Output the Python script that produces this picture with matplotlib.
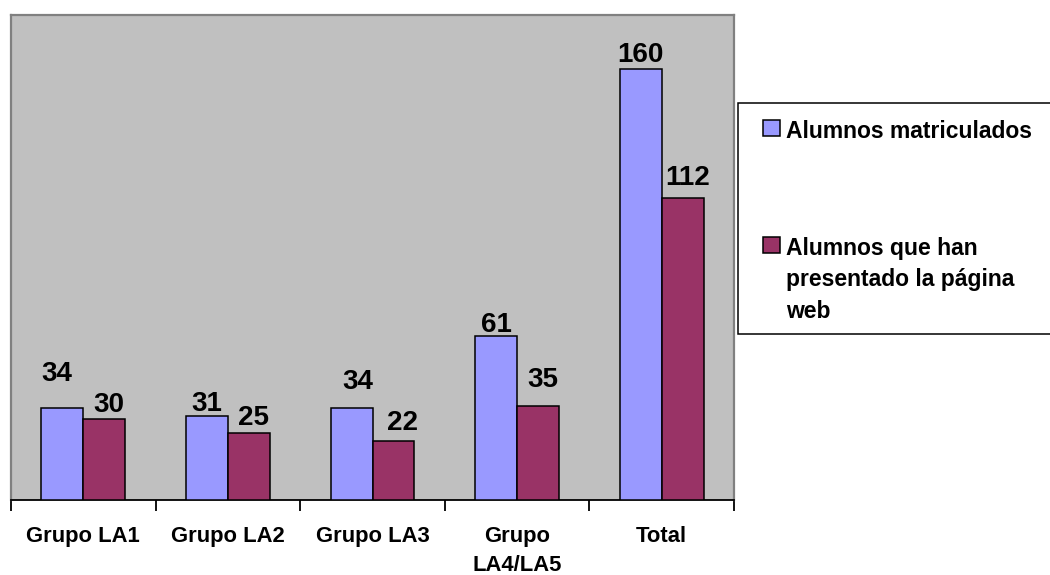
import numpy as np
import matplotlib
matplotlib.use("Agg")
import matplotlib.pyplot as plt
from matplotlib.patches import Rectangle

# datos del grafico
grupos = ["Grupo LA1", "Grupo LA2", "Grupo LA3", "Grupo\nLA4/LA5", "Total"]
matriculados = [34, 31, 34, 61, 160]
presentados = [30, 25, 22, 35, 112]
series = ["Alumnos matriculados", "Alumnos que han\npresentado la página\nweb"]

# desplazamiento de las etiquetas (px), imitando la colocacion de Excel
dx_mat = [-6, 0, 6, 0, 0]
dy_mat = [34, 12, 26, 11, 14]
dx_pre = [5, 5, 9, 5, 5]
dy_pre = [14, 15, 18, 26, 20]

azul = "#9999FF"
granate = "#993366"

plt.rcParams['font.family'] = ['Liberation Sans', 'DejaVu Sans']
plt.rcParams['font.weight'] = 'bold'

fig = plt.figure(figsize=(10.5, 5.75), dpi=100)
W, H = 1050, 575
ax = fig.add_axes([11 / W, 1 - 500 / H, (734 - 11) / W, (500 - 15) / H])
ax.set_facecolor("#C0C0C0")

x = np.arange(len(grupos))
w = 0.29
b1 = ax.bar(x - w / 2, matriculados, w, color=azul, edgecolor="black", linewidth=1.1,
            label=series[0], zorder=3)
b2 = ax.bar(x + w / 2, presentados, w, color=granate, edgecolor="black", linewidth=1.1,
            label=series[1], zorder=3)

ax.set_xlim(-0.5, len(grupos) - 0.5)
ax.set_ylim(0, 180)
ax.set_yticks([])

# etiquetas de categoria en el centro, marcas en los limites
ax.set_xticks(x)
ax.set_xticklabels(grupos, fontsize=15.8, fontweight="bold", linespacing=1.5)
ax.tick_params(axis="x", which="major", length=0, pad=19)
ax.set_xticks(np.arange(len(grupos) + 1) - 0.5, minor=True)
ax.tick_params(axis="x", which="minor", length=8, width=1.3, color="black", direction="out")

for side in ["left", "top", "right"]:
    ax.spines[side].set_color("#808080")
    ax.spines[side].set_linewidth(1.6)
ax.spines["bottom"].set_color("black")
ax.spines["bottom"].set_linewidth(1.3)


def autolabel(rects, vals, dxs, dys):
    for rect, v, ddx, ddy in zip(rects, vals, dxs, dys):
        ax.annotate(str(v), xy=(rect.get_x() + rect.get_width() / 2, rect.get_height()),
                    xytext=(ddx, ddy), textcoords="offset pixels",
                    ha="center", va="center", fontsize=20, fontweight="bold",
                    annotation_clip=False, zorder=4)


autolabel(b1, matriculados, dx_mat, dy_mat)
autolabel(b2, presentados, dx_pre, dy_pre)

# leyenda: marco aparte (detras de los ejes) y contenido sin marco
fig.patches.append(Rectangle((738 / W, 1 - 334 / H), 330 / W, (334 - 103) / H,
                             transform=fig.transFigure, facecolor="white",
                             edgecolor="black", linewidth=1.1, zorder=-1))
leg = ax.legend(loc="upper left", bbox_to_anchor=(763 / W, 1 - 120 / H),
                bbox_transform=fig.transFigure, frameon=False, borderpad=0,
                borderaxespad=0, handlelength=0.72, handleheight=0.72,
                handletextpad=0.3, labelspacing=4.1,
                prop={"weight": "bold", "size": 16.5})
for col in leg._legend_handle_box.get_children():
    for row in col.get_children():
        row.align = "top"
for t in leg.get_texts():
    t.set_linespacing(1.47)
for p in leg.get_patches():
    p.set_linewidth(1.1)

fig.savefig("out.png", dpi=100)
